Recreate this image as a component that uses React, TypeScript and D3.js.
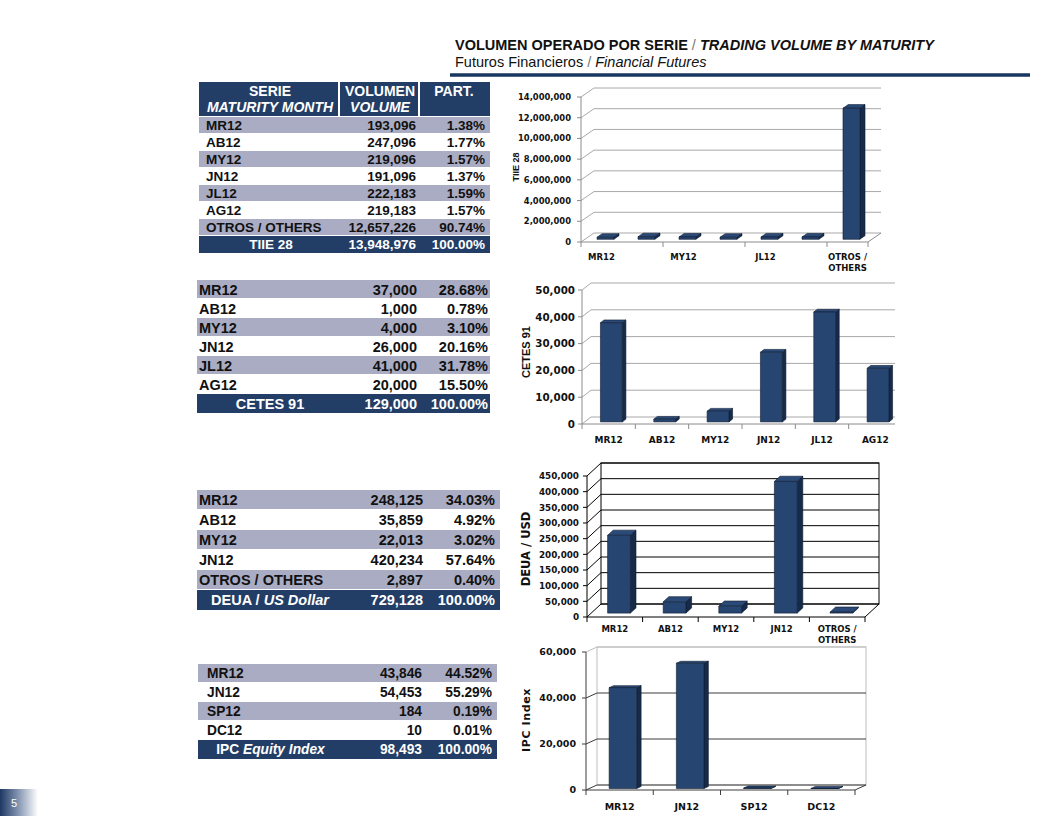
import React from "react";
import * as d3 from "d3";

// TIIE 28
const tiieSeries = ["MR12", "AB12", "MY12", "JN12", "JL12", "AG12", "OTROS / OTHERS"];
const tiieVolume = [193096, 247096, 219096, 191096, 222183, 219183, 12657226];
const tiiePart = [1.38, 1.77, 1.57, 1.37, 1.59, 1.57, 90.74];
const tiieTotal = 13948976;

// CETES 91
const cetesSeries = ["MR12", "AB12", "MY12", "JN12", "JL12", "AG12"];
const cetesVolume = [37000, 1000, 4000, 26000, 41000, 20000];
const cetesPart = [28.68, 0.78, 3.1, 20.16, 31.78, 15.5];
const cetesTotal = 129000;

// DEUA / US Dollar
const deuaSeries = ["MR12", "AB12", "MY12", "JN12", "OTROS / OTHERS"];
const deuaVolume = [248125, 35859, 22013, 420234, 2897];
const deuaPart = [34.03, 4.92, 3.02, 57.64, 0.4];
const deuaTotal = 729128;

// IPC Equity Index
const ipcSeries = ["MR12", "JN12", "SP12", "DC12"];
const ipcVolume = [43846, 54453, 184, 10];
const ipcPart = [44.52, 55.29, 0.19, 0.01];
const ipcTotal = 98493;

const NAVY = "#233e66";
const GREY = "#a9acc3";
const fmt = d3.format(",");
const pct = (v: number) => v.toFixed(2) + "%";
const SANS = "'Liberation Sans', Arial, sans-serif";
const DEJA = "'DejaVu Sans', Verdana, sans-serif";

type TableProps = {
  series: string[];
  volume: number[];
  part: number[];
  total: number;
  totalLabel: React.ReactNode;
  left: number;
  right: number;
  top: number;
  rowH: number;
  fontSize: number;
  labelX: number;
  volRight: number;
  partRight: number;
};

function SeriesTable(p: TableProps) {
  const base = (y: number) => y + p.rowH / 2 + p.fontSize * 0.36;
  const totalY = p.top + p.series.length * p.rowH;
  return (
    <g fontFamily={SANS} fontWeight="bold" fontSize={p.fontSize}>
      {p.series.map((s, i) => {
        const y = p.top + i * p.rowH;
        return (
          <g key={s}>
            {i % 2 === 0 && (
              <rect x={p.left} y={y} width={p.right - p.left} height={p.rowH - 1} fill={GREY} />
            )}
            <text x={p.labelX} y={base(y)} fill="#111">{s}</text>
            <text x={p.volRight} y={base(y)} fill="#111" textAnchor="end">{fmt(p.volume[i])}</text>
            <text x={p.partRight} y={base(y)} fill="#111" textAnchor="end">{pct(p.part[i])}</text>
          </g>
        );
      })}
      <rect x={p.left} y={totalY} width={p.right - p.left} height={p.rowH} fill={NAVY} />
      <text x={(p.left + 339) / 2 + 2} y={base(totalY)} fill="#fff" textAnchor="middle">{p.totalLabel}</text>
      <text x={p.volRight} y={base(totalY)} fill="#fff" textAnchor="end">{fmt(p.total)}</text>
      <text x={p.partRight} y={base(totalY)} fill="#fff" textAnchor="end">{pct(100)}</text>
    </g>
  );
}

type ChartProps = {
  id: string;
  cats: string[];
  values: number[];
  x0: number;
  x1: number;
  yBase: number;
  yTop: number;
  max: number;
  step: number;
  dx: number;
  dy: number;
  grid: string;
  wall?: string;
  axis: string;
  every: number;
  tickSize: number;
  tickSpacing?: number;
  yLabelX: number;
  catSize: number;
  labelY: number;
  title: string;
  titleX: number;
  titleY: number;
  titleSize: number;
  titleFamily: string;
  titleSpacing?: number;
  clipRight?: number;
};

function Column3D(c: ChartProps) {
  const x = d3.scaleBand<string>().domain(c.cats).range([c.x0, c.x1]);
  const y = d3.scaleLinear().domain([0, c.max]).range([c.yBase, c.yTop]);
  const ticks = d3.range(0, c.max + c.step / 2, c.step);
  const bw = x.bandwidth();
  const barW = bw * 0.41;
  const fx = c.dx * 0.3, fy = c.dy * 0.3;
  const bdx = c.dx * 0.4, bdy = c.dy * 0.4;
  const n = c.cats.length;
  const boundaries = d3.range(0, n + 1).filter((i) => i % c.every === 0 || i === n);
  const pts = (a: number[][]) => a.map((q) => q.join(",")).join(" ");

  return (
    <g clipPath={c.clipRight ? `url(#clip-${c.id})` : undefined}>
      {c.clipRight && (
        <defs>
          <clipPath id={`clip-${c.id}`}>
            <rect x={500} y={0} width={c.clipRight - 500} height={816} />
          </clipPath>
        </defs>
      )}
      {c.wall && (
        <rect
          x={c.x0 + c.dx}
          y={c.yTop + c.dy}
          width={c.x1 - c.x0}
          height={c.yBase - c.yTop}
          fill="#fff"
          stroke={c.wall}
          strokeWidth={1}
        />
      )}
      {ticks.map((t) => {
        const ty = y(t);
        const isTop = t === ticks[ticks.length - 1] && c.wall;
        const col = isTop ? c.wall : c.grid;
        return (
          <g key={t}>
            <polyline
              points={pts([[c.x0, ty], [c.x0 + c.dx, ty + c.dy], [c.x1 + c.dx, ty + c.dy]])}
              fill="none"
              stroke={col}
              strokeWidth={1}
            />
            <line x1={c.x0 - 4} x2={c.x0} y1={ty} y2={ty} stroke={c.axis} />
            <text
              x={c.yLabelX}
              y={ty + c.tickSize * 0.36}
              textAnchor="end"
              fontFamily={DEJA}
              fontWeight="bold"
              fontSize={c.tickSize}
              letterSpacing={c.tickSpacing || 0}
              fill="#111"
            >
              {fmt(t)}
            </text>
          </g>
        );
      })}
      {/* floor and axis */}
      <polyline
        points={pts([[c.x0, c.yBase], [c.x1, c.yBase], [c.x1 + c.dx, c.yBase + c.dy]])}
        fill="none"
        stroke={c.axis}
      />
      <line x1={c.x0} x2={c.x0} y1={c.yBase} y2={c.yTop} stroke={c.axis} />
      {boundaries.map((i) => {
        const bx = c.x0 + i * bw;
        return <line key={i} x1={bx} x2={bx} y1={c.yBase} y2={c.yBase + 5} stroke={c.axis} />;
      })}
      {/* bars */}
      {c.cats.map((cat, i) => {
        const xl = (x(cat) as number) + (bw - barW) / 2 + fx;
        const xr = xl + barW;
        const yt = y(c.values[i]) + fy;
        const yb = c.yBase + fy;
        return (
          <g key={cat} stroke="#0e1b30" strokeWidth={0.6} strokeLinejoin="round">
            <polygon points={pts([[xr, yt], [xr + bdx, yt + bdy], [xr + bdx, yb + bdy], [xr, yb]])} fill="#172a4a" />
            <polygon points={pts([[xl, yt], [xl + bdx, yt + bdy], [xr + bdx, yt + bdy], [xr, yt]])} fill="#2b4a78" />
            <rect x={xl} y={yt} width={barW} height={yb - yt} fill="#274571" />
          </g>
        );
      })}
      {/* category labels */}
      {c.cats.map((cat, i) => {
        if (i % c.every !== 0) return null;
        const lines = cat.includes(" / ") ? [cat.split(" / ")[0] + " /", cat.split(" / ")[1]] : [cat];
        return (
          <text
            key={cat}
            x={(x(cat) as number) + bw / 2}
            y={c.labelY}
            textAnchor="middle"
            fontFamily={DEJA}
            fontWeight="bold"
            fontSize={c.catSize}
            fill="#111"
          >
            {lines.map((l, k) => (
              <tspan key={k} x={(x(cat) as number) + bw / 2} dy={k === 0 ? 0 : c.catSize * 1.3}>
                {l}
              </tspan>
            ))}
          </text>
        );
      })}
      <text
        transform={`translate(${c.titleX},${c.titleY}) rotate(-90)`}
        textAnchor="middle"
        fontFamily={c.titleFamily}
        fontWeight="bold"
        fontSize={c.titleSize}
        letterSpacing={c.titleSpacing || 0}
        fill="#111"
      >
        {c.title}
      </text>
    </g>
  );
}

export default function App() {
  return (
    <svg
      width={1054}
      height={816}
      style={{ position: "absolute", left: 0, top: 0, background: "#fff" }}
    >
      <defs>
        <linearGradient id="pageGrad" x1="0" x2="1" y1="0" y2="0">
          <stop offset="0%" stopColor="#1e3864" />
          <stop offset="45%" stopColor="#7d8fad" />
          <stop offset="100%" stopColor="#ffffff" />
        </linearGradient>
      </defs>
      <rect width={1054} height={816} fill="#fff" />

      {/* header */}
      <text x={455} y={50} fontFamily={SANS} fontSize={14.5} fontWeight="bold" fill="#111">
        VOLUMEN OPERADO POR SERIE
        <tspan fontWeight="normal" fill="#777"> / </tspan>
        <tspan fontStyle="italic">TRADING VOLUME BY MATURITY</tspan>
      </text>
      <text x={455} y={67} fontFamily={SANS} fontSize={14.5} fill="#111">
        Futuros Financieros
        <tspan fill="#777"> / </tspan>
        <tspan fontStyle="italic">Financial Futures</tspan>
      </text>
      <line x1={450} x2={1030} y1={75} y2={75} stroke="#17375e" strokeWidth={3.5} />

      {/* table 1 header */}
      <g fontFamily={SANS} fontWeight="bold" fontSize={14} fill="#fff">
        <rect x={199} y={82} width={139} height={34} fill={NAVY} />
        <rect x={340} y={82} width={78} height={34} fill={NAVY} />
        <rect x={420} y={82} width={70} height={34} fill={NAVY} />
        <text x={270} y={96} textAnchor="middle">SERIE</text>
        <text x={270} y={112} textAnchor="middle" fontStyle="italic">MATURITY MONTH</text>
        <text x={380} y={96} textAnchor="middle">VOLUMEN</text>
        <text x={380} y={112} textAnchor="middle" fontStyle="italic">VOLUME</text>
        <text x={454} y={96} textAnchor="middle">PART.</text>
      </g>

      <SeriesTable
        series={tiieSeries} volume={tiieVolume} part={tiiePart} total={tiieTotal}
        totalLabel="TIIE 28"
        left={199} right={490} top={117} rowH={17} fontSize={13.5}
        labelX={206} volRight={416} partRight={485}
      />
      <SeriesTable
        series={cetesSeries} volume={cetesVolume} part={cetesPart} total={cetesTotal}
        totalLabel="CETES 91"
        left={197} right={490} top={280} rowH={19} fontSize={14.5}
        labelX={199} volRight={417} partRight={488}
      />
      <SeriesTable
        series={deuaSeries} volume={deuaVolume} part={deuaPart} total={deuaTotal}
        totalLabel={<>DEUA / <tspan fontStyle="italic">US Dollar</tspan></>}
        left={197} right={500} top={490} rowH={20} fontSize={14.5}
        labelX={199} volRight={423} partRight={495}
      />
      <SeriesTable
        series={ipcSeries} volume={ipcVolume} part={ipcPart} total={ipcTotal}
        totalLabel={<>IPC <tspan fontStyle="italic">Equity Index</tspan></>}
        left={198} right={497} top={664} rowH={19} fontSize={13.75}
        labelX={207} volRight={422} partRight={492}
      />

      <Column3D
        id="tiie" cats={tiieSeries} values={tiieVolume}
        x0={581} x1={868} yBase={242} yTop={97} max={14000000} step={2000000}
        dx={13} dy={-9} grid="#a8a8a8" axis="#8c8c8c" every={2}
        tickSize={8.4} yLabelX={571} catSize={8.5} labelY={260}
        title="TIIE 28" titleX={519} titleY={167} titleSize={9} titleFamily={SANS}
      />
      <Column3D
        id="cetes" cats={cetesSeries} values={cetesVolume}
        x0={582} x1={902} yBase={424} yTop={290} max={50000} step={10000}
        dx={9} dy={-7} grid="#a8a8a8" axis="#8c8c8c" every={1}
        tickSize={10.3} yLabelX={575} catSize={9} labelY={443}
        title="CETES 91" titleX={530} titleY={352} titleSize={11} titleFamily={SANS}
        clipRight={895}
      />
      <Column3D
        id="deua" cats={deuaSeries} values={deuaVolume}
        x0={587} x1={865} yBase={617} yTop={476} max={450000} step={50000}
        dx={14} dy={-13} grid="#000" wall="#000" axis="#000" every={1}
        tickSize={8.8} yLabelX={579} catSize={8.5} labelY={632}
        title="DEUA / USD" titleX={530} titleY={549} titleSize={11.5} titleFamily={DEJA}
      />
      <Column3D
        id="ipc" cats={ipcSeries} values={ipcVolume}
        x0={586} x1={855} yBase={790} yTop={652} max={60000} step={20000}
        dx={11} dy={-5} grid="#3c3c3c" wall="#bdbdbd" axis="#3c3c3c" every={1}
        tickSize={9.5} yLabelX={576} catSize={9.5} labelY={810}
        title="IPC Index" titleX={530} titleY={720} titleSize={11} titleFamily={DEJA} titleSpacing={0.6}
      />

      {/* page number */}
      <rect x={0} y={789} width={38} height={27} fill="url(#pageGrad)" />
      <text x={11} y={807} fontFamily={SANS} fontSize={11} fill="#fff">5</text>
    </svg>
  );
}
